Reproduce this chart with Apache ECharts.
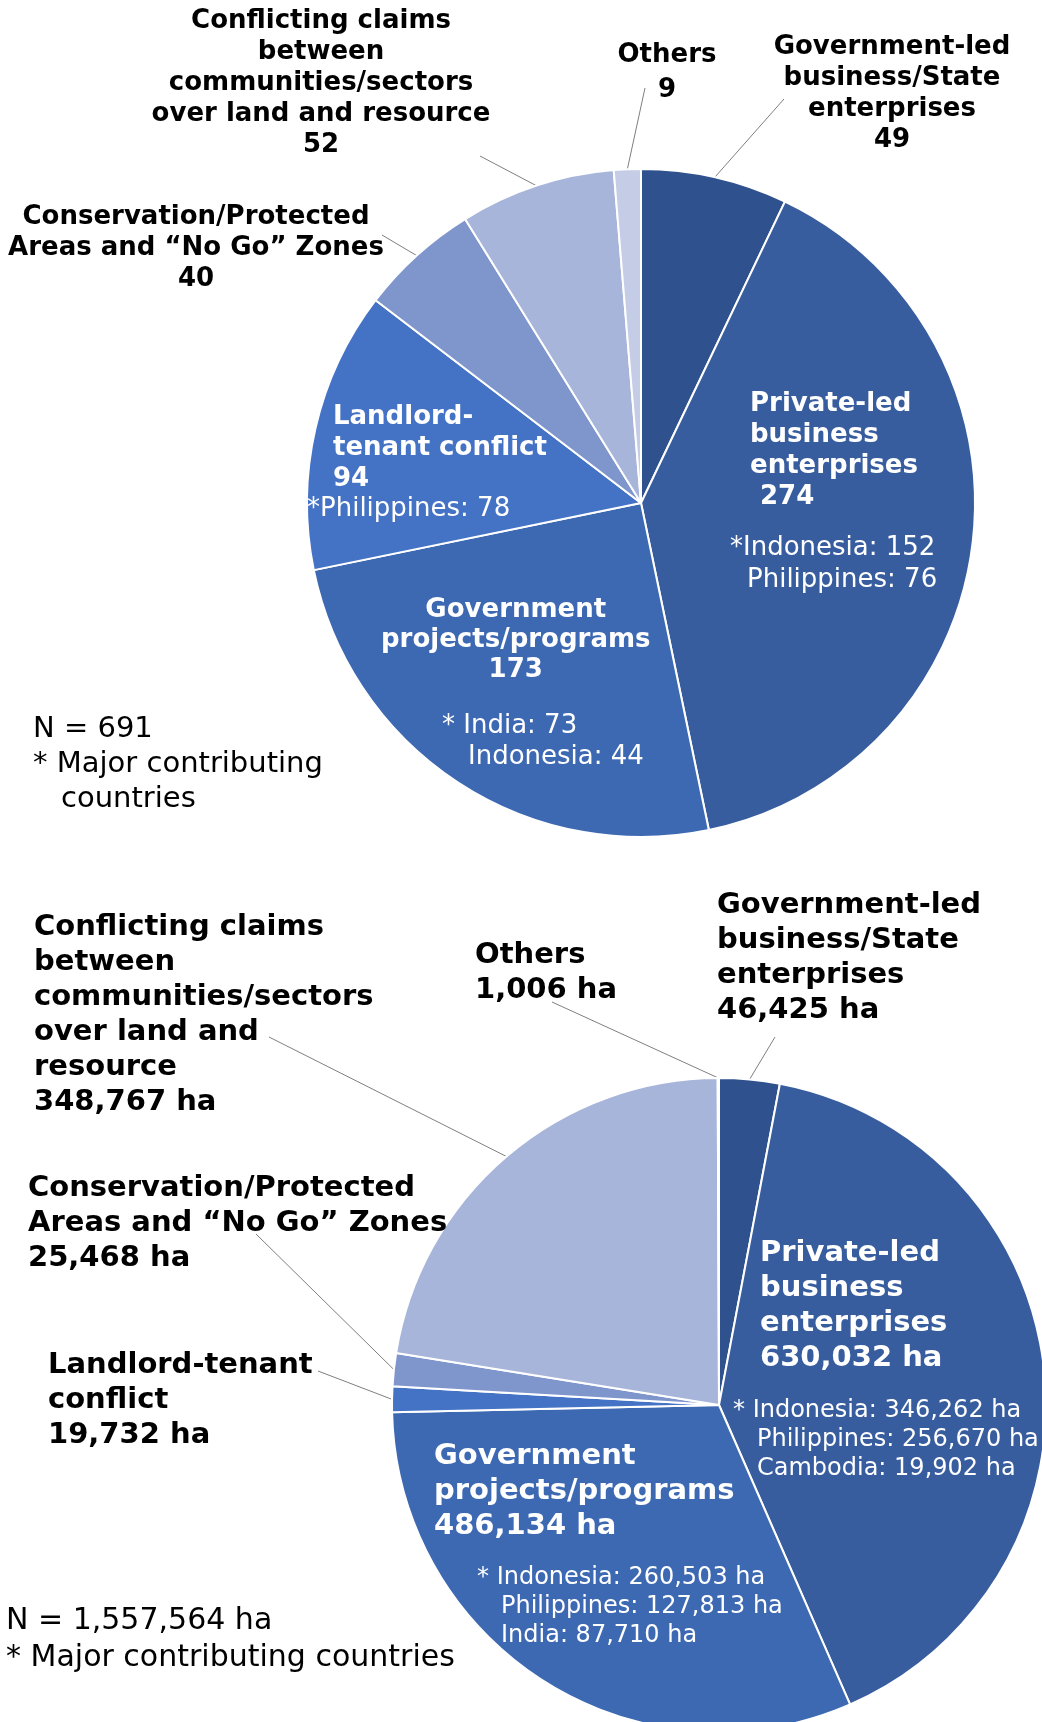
<!DOCTYPE html>
<html>
<head>
<meta charset="utf-8">
<script src="https://cdn.jsdelivr.net/npm/echarts@6/dist/echarts.min.js"></script>
<style>
  html, body { margin: 0; padding: 0; background: #fff; }
  #chart { width: 1042px; height: 1722px; }
</style>
</head>
<body>
<div id="chart"></div>
<script>
// ---- data ----
const SLICE_COLORS = ['#2F528F', '#385D9F', '#3D69B3', '#4472C4', '#7F96CD', '#A7B5DA', '#C4CCE6'];

const TOP_NAMES = [
    'Government-led\nbusiness/State\nenterprises',
    'Private-led\nbusiness\nenterprises',
    'Government\nprojects/programs',
    'Landlord-\ntenant conflict',
    'Conservation/Protected\nAreas and “No Go” Zones',
    'Conflicting claims\nbetween\ncommunities/sectors\nover land and resource',
    'Others',
];
const TOP_VALUES = [49, 274, 173, 94, 40, 52, 9];
const TOP_COUNTRIES = [
    [],
    [['Indonesia', 152], ['Philippines', 76]],
    [['India', 73], ['Indonesia', 44]],
    [['Philippines', 78]],
    [], [], [],
];

const BOTTOM_NAMES = [
    'Government-led\nbusiness/State\nenterprises',
    'Private-led\nbusiness\nenterprises',
    'Government\nprojects/programs',
    'Landlord-tenant\nconflict',
    'Conservation/Protected\nAreas and “No Go” Zones',
    'Conflicting claims\nbetween\ncommunities/sectors\nover land and\nresource',
    'Others',
];
const BOTTOM_VALUES = [46425, 630032, 486134, 19732, 25468, 348767, 1006];
const BOTTOM_COUNTRIES = [
    [],
    [['Indonesia', 346262], ['Philippines', 256670], ['Cambodia', 19902]],
    [['Indonesia', 260503], ['Philippines', 127813], ['India', 87710]],
    [], [], [], [],
];

// ---- label placement (layout only) ----
const FONT = "'DejaVu Sans', Verdana, sans-serif";

// x/y = anchor of the text block, lineEnd = where the leader line meets the text
const TOP_LAYOUT = [
    { x: 892, y: 31.5, align: 'center', lineEnd: [784, 99] },
    { x: 730, y: 388.5, align: 'left', inside: true, namePad: 20, valuePad: 30, gap: 20, star: '*', countryLH: 32, countryPads: [0, 17] },
    { x: 381, y: 595, align: 'left', tokenAlign: 'center', inside: true, lh: 30, gap: 26, star: '* ', countryLH: 31, countryPads: [61, 87] },
    { x: 307, y: 401.5, align: 'left', inside: true, namePad: 26, star: '*', countryLH: 29, countryPads: [0] },
    { x: 196, y: 201.5, align: 'center', lineEnd: [382, 235] },
    { x: 321, y: 5.5, align: 'center', lineEnd: [480, 156] },
    { x: 667, y: 37.5, align: 'center', lh: 35, lineEnd: [645, 88] },
];

const BOTTOM_LAYOUT = [
    { x: 717, y: 887.5, align: 'left', lineEnd: [775, 1037] },
    { x: 733, y: 1235.5, align: 'left', inside: true, namePad: 27, gap: 21, star: '* ', countryLH: 29, countryPads: [0, 24, 24] },
    { x: 434, y: 1438.5, align: 'left', inside: true, namePad: 0, gap: 20, star: '* ', countryLH: 29, countryPads: [43, 67, 67] },
    { x: 48, y: 1347.5, align: 'left', lineEnd: [318, 1371] },
    { x: 28, y: 1170.5, align: 'left', lineEnd: [256, 1234] },
    { x: 34, y: 909.5, align: 'left', lineEnd: [269, 1037] },
    { x: 475, y: 937.5, align: 'left', lineEnd: [552, 1002] },
];

const fmtTop = v => String(v);
const fmtBottom = v => v.toLocaleString('en-US') + ' ha';

function makePie(cfg) {
    const rich = {};
    cfg.layout.forEach((s, i) => {
        const color = s.inside ? '#fff' : '#000';
        const bold = {
            fontFamily: FONT, fontWeight: 'bold', fontSize: cfg.boldSize,
            lineHeight: s.lh || cfg.boldLH, color,
            align: s.tokenAlign || s.align,
        };
        rich['n' + i] = { ...bold, padding: [0, 0, 0, s.namePad || 0] };
        rich['v' + i] = { ...bold, padding: [0, 0, 0, s.valuePad ?? s.namePad ?? 0] };
        if (s.gap) rich['g' + i] = { fontSize: 8, lineHeight: s.gap, color };
        (s.countryPads || []).forEach((p, k) => {
            rich['c' + i + '_' + k] = {
                fontFamily: FONT, fontSize: cfg.countrySize, lineHeight: s.countryLH,
                color, align: 'left', padding: [0, 0, 0, p],
            };
        });
    });

    return {
        type: 'pie',
        center: cfg.center,
        radius: cfg.radius,
        startAngle: 90,
        clockwise: true,
        avoidLabelOverlap: false,
        minShowLabelAngle: 0,
        silent: true,
        itemStyle: { borderColor: '#fff', borderWidth: 2 },
        label: {
            show: true,
            position: 'outside',
            rich,
            formatter: p => {
                const i = p.dataIndex;
                const s = cfg.layout[i];
                const lines = cfg.names[i].split('\n').map(t => `{n${i}|${t}}`);
                lines.push(`{v${i}|${cfg.fmt(cfg.values[i])}}`);
                const cs = cfg.countries[i];
                if (cs.length) {
                    if (s.gap) lines.push(`{g${i}| }`);
                    cs.forEach(([c, v], k) => {
                        lines.push(`{c${i}_${k}|${k === 0 ? s.star : ''}${c}: ${cfg.fmt(v)}}`);
                    });
                }
                return lines.join('\n');
            },
        },
        labelLine: { show: true, length: 10, length2: 0, lineStyle: { color: '#7f7f7f', width: 1 } },
        labelLayout: params => {
            const s = cfg.layout[params.dataIndex];
            const out = { x: s.x, y: s.y, align: s.align, verticalAlign: 'top' };
            // keep the start on the slice edge, run straight to the text
            if (s.lineEnd && params.labelLinePoints) {
                const p0 = params.labelLinePoints[0];
                out.labelLinePoints = [[p0[0], p0[1]], s.lineEnd.slice(), s.lineEnd.slice()];
            }
            return out;
        },
        data: cfg.values.map((v, i) => ({
            value: v,
            name: cfg.names[i].replace(/\n/g, ' '),
            itemStyle: { color: SLICE_COLORS[i] },
            label: { position: cfg.layout[i].inside ? 'inside' : 'outside' },
            labelLine: { show: !cfg.layout[i].inside },
        })),
    };
}

const topTotal = TOP_VALUES.reduce((a, b) => a + b, 0);
const bottomTotal = BOTTOM_VALUES.reduce((a, b) => a + b, 0);

const chart = echarts.init(document.getElementById('chart'), null, { renderer: 'canvas' });
chart.setOption({
    animation: false,
    backgroundColor: '#fff',
    title: [
        {
            left: 33, top: 712, padding: 0,
            text: `{a|N = ${topTotal}}\n{a|* Major contributing}\n{b|countries}`,
            textStyle: {
                fontWeight: 'normal',
                rich: {
                    a: { fontFamily: FONT, fontWeight: 'normal', fontSize: 29, lineHeight: 35, color: '#000' },
                    b: { fontFamily: FONT, fontWeight: 'normal', fontSize: 29, lineHeight: 35, color: '#000', padding: [0, 0, 0, 28] },
                },
            },
        },
        {
            left: 6, top: 1603, padding: 0,
            text: `{a|N = ${bottomTotal.toLocaleString('en-US')} ha}\n{a|* Major contributing countries}`,
            textStyle: {
                fontWeight: 'normal',
                rich: {
                    a: { fontFamily: FONT, fontWeight: 'normal', fontSize: 30, lineHeight: 37, color: '#000' },
                },
            },
        },
    ],
    series: [
        makePie({
            center: [641, 503], radius: 334,
            names: TOP_NAMES, values: TOP_VALUES, countries: TOP_COUNTRIES,
            layout: TOP_LAYOUT, fmt: fmtTop,
            boldSize: 26, boldLH: 31, countrySize: 26,
        }),
        makePie({
            center: [719, 1405], radius: 327,
            names: BOTTOM_NAMES, values: BOTTOM_VALUES, countries: BOTTOM_COUNTRIES,
            layout: BOTTOM_LAYOUT, fmt: fmtBottom,
            boldSize: 29, boldLH: 35, countrySize: 24,
        }),
    ],
});
</script>
</body>
</html>
